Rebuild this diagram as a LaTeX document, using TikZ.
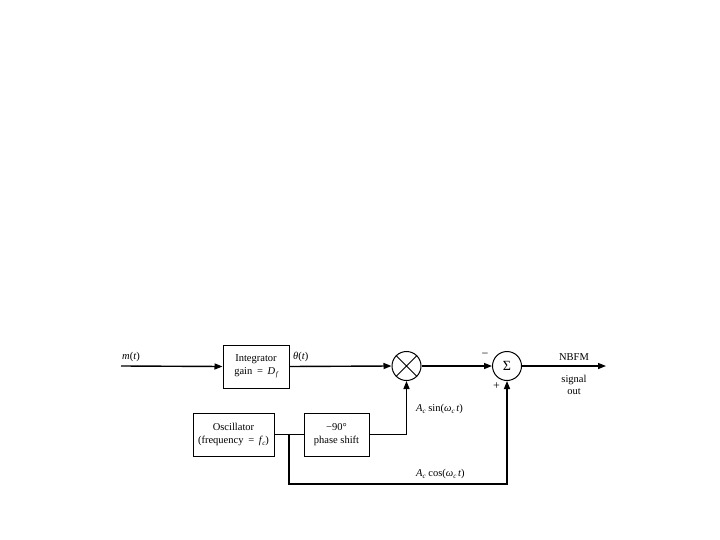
\documentclass[tikz,border=0pt]{standalone}
\usepackage{fontspec}
\setmainfont{Liberation Serif}
\usetikzlibrary{arrows.meta}
\newcommand{\iv}[1]{\textit{#1}}
\newcommand{\sq}{\hspace{0.45em}=\hspace{0.45em}}
\begin{document}
\begin{tikzpicture}[x=1pt,y=-1pt,
  every node/.style={font=\fontsize{10.5}{12.5}\selectfont, inner sep=0pt},
  blk/.style={draw, line width=1pt, align=center},
  circ/.style={draw, circle, line width=1pt, minimum size=29pt},
  sig/.style={line width=1.4pt},
  arr/.style={sig, -{Triangle[length=8pt,width=6pt]}},
  lbl/.style={font=\fontsize{10.5}{12.5}\selectfont}]
\useasboundingbox (0,0) rectangle (720,540);
\fill[white] (0,0) rectangle (720,540);
% blocks
\node[blk, minimum width=66pt, minimum height=43pt] (int) at (256,366.5) {Integrator\\gain\sq\iv{D\kern0.5pt\raisebox{-2pt}{\scriptsize f}}};
\node[blk, minimum width=81pt, minimum height=43pt] (osc) at (233.5,434.5) {Oscillator\\(frequency\sq\iv{f\kern0.5pt\raisebox{-2pt}{\scriptsize c}})};
\node[blk, minimum width=65pt, minimum height=43pt] (ps) at (336.5,434.5) {−90°\\phase shift};
\node[circ] (mul) at (406.5,366) {};
\draw[line width=0.9pt] (mul.north west) -- (mul.south east) (mul.north east) -- (mul.south west);
\node[circ, font=\fontsize{14}{14}\selectfont] (sum) at (507,366) {Σ};
% coordinates
\coordinate (in) at (121,366);
\coordinate (out) at (606,366);
\coordinate (j) at (289,434.5);
\coordinate (bl) at (289,484);
\coordinate (br) at (507,484);
\coordinate (pr) at (406.5,434.5);
% connectors
\draw[arr] (in) -- (int.west);
\draw[arr] (int.east) -- (mul.west);
\draw[arr] (mul.east) -- (sum.west);
\draw[arr] (sum.east) -- (out);
\draw[sig] (osc.east) -- (ps.west);
\draw[arr] (ps.east) -- (pr) -- (mul.south);
\draw[arr] (j) -- (bl) -- (br) -- (sum.south);
% labels
\node[lbl, anchor=west] (lm) at (122,357) {\iv{m}(\iv{t})};
\node[lbl, anchor=west] (lth) at (293,357) {\iv{θ}(\iv{t})};
\node[lbl, font=\fontsize{12}{12}\selectfont] (lminus) at (485,355) {−};
\node[lbl, font=\fontsize{12}{12}\selectfont] (lplus) at (496.5,386) {+};
\node[lbl] (lnb) at (574,357) {NBFM};
\node[lbl, align=center] (lso) at (574,385) {signal\\out};
\node[lbl, anchor=west] (lsin) at (416,409) {\iv{A\raisebox{-2pt}{\scriptsize c}} sin(\iv{ω\raisebox{-2pt}{\scriptsize c}\,t})};
\node[lbl, anchor=west] (lcos) at (416,474) {\iv{A\raisebox{-2pt}{\scriptsize c}} cos(\iv{ω\raisebox{-2pt}{\scriptsize c}\,t})};
\end{tikzpicture}
\end{document}
